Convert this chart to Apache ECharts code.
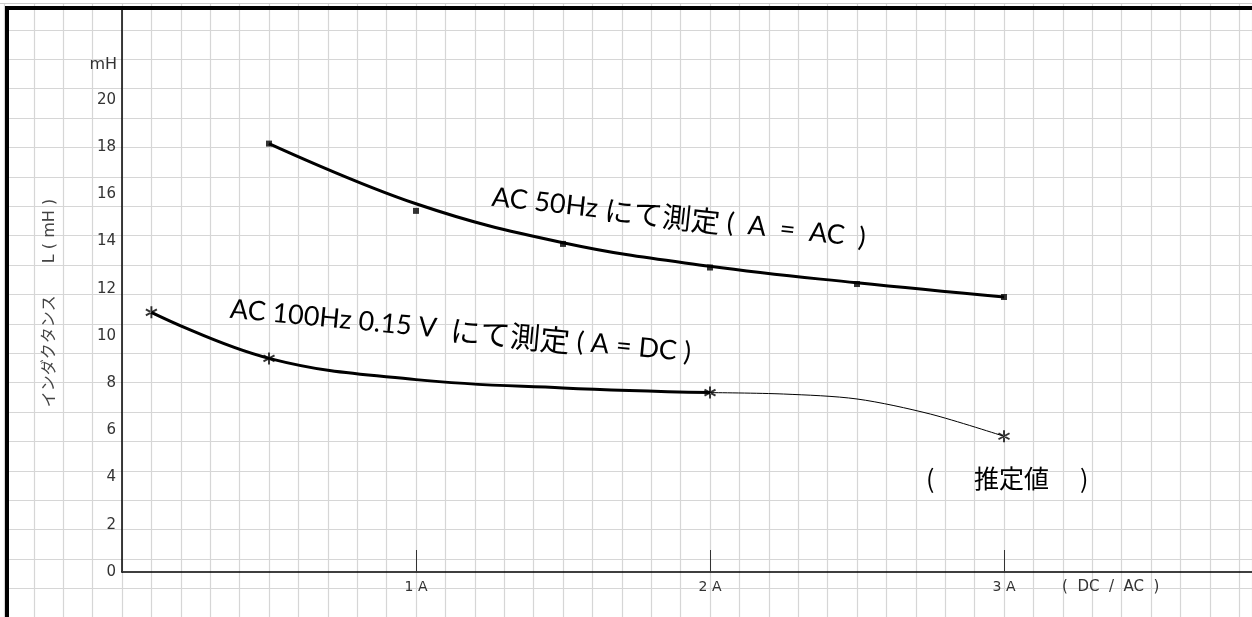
<!DOCTYPE html>
<html>
<head>
<meta charset="utf-8">
<title>インダクタンス</title>
<script src="https://cdn.jsdelivr.net/npm/echarts@6/dist/echarts.min.js"></script>
<style>
  html, body { margin: 0; padding: 0; background: #fff; }
  #chart { width: 1252px; height: 617px; }
</style>
</head>
<body>
<div id="chart"></div>
<script>
// x: current (A), y: inductance (mH)
const xTicks = [1, 2, 3];
const yTicks = [0, 2, 4, 6, 8, 10, 12, 14, 16, 18, 20];

// AC 50Hz measured points (square marks) and the drawn curve
const acX = [0.5, 1.0, 1.5, 2.0, 2.5, 3.0];
const acMarks = [18.15, 15.3, 13.9, 12.9, 12.2, 11.65];
const acCurve = [18.15, 15.6, 13.95, 12.95, 12.25, 11.65];

// AC 100Hz 0.15V (A = DC) measured points (asterisks) and curve
const dcX = [0.1, 0.5, 1.0, 1.5, 2.0];
const dcCurve = [11.0, 9.05, 8.15, 7.8, 7.6];
const dcMarkX = [0.1, 0.5, 2.0, 3.0];
const dcMarks = [11.0, 9.05, 7.6, 5.75];

// estimated part (thin line)
const estX = [2.0, 2.25, 2.5, 2.75, 3.0];
const estCurve = [7.6, 7.54, 7.33, 6.69, 5.75];

const zip = (xs, ys) => xs.map((x, i) => [x, ys[i]]);

const asterisk = 'path://M-0.75,-5L0.75,-5L0.75,5L-0.75,5Z' +
  'M3.95,3.15L4.7,1.85L-3.95,-3.15L-4.7,-1.85Z' +
  'M-3.95,3.15L-4.7,1.85L3.95,-3.15L4.7,-1.85Z';

const labelFont = '"DejaVu Sans", "Noto Sans CJK JP", sans-serif';
const latFont = 'Lato, "Noto Sans CJK JP", sans-serif';
const cjkFont = '"Noto Sans CJK JP", sans-serif';

const noteRich = {
  l: { fontFamily: latFont, fontSize: 27, color: '#000' },
  j: { fontFamily: cjkFont, fontSize: 29, color: '#000' },
  k: { fontFamily: cjkFont, fontSize: 30, color: '#000' },
};

const chart = echarts.init(document.getElementById('chart'), null, { renderer: 'canvas' });

const option = {
  animation: false,
  backgroundColor: '#fff',
  grid: [
    { left: 122, top: 10, right: 0, bottom: 45 },
    { left: 4.4, top: 0.4, right: 0, bottom: 0, z: 0 },
  ],
  xAxis: [{
    type: 'value',
    gridIndex: 0,
    min: 0,
    max: 3.8435,
    interval: 1,
    axisLine: { lineStyle: { color: '#000', width: 1.5 } },
    axisTick: { inside: true, length: 22, lineStyle: { color: '#333' } },
    axisLabel: {
      showMaxLabel: false,
      margin: 8,
      color: '#333',
      fontSize: 14,
      fontFamily: labelFont,
      formatter: (v) => (xTicks.indexOf(v) >= 0 ? v + ' A' : ''),
    },
    splitLine: { show: false },
    z: 5,
  }, {
    type: 'value',
    gridIndex: 1,
    min: 0,
    max: 42.435,
    interval: 1,
    axisLine: { show: false },
    axisTick: { show: false },
    axisLabel: { show: false },
    splitLine: { lineStyle: { color: '#d6d6d6', width: 1.2 } },
  }],
  yAxis: [{
    type: 'value',
    gridIndex: 0,
    min: 0,
    max: 23.81,
    interval: 2,
    axisLine: { show: true, lineStyle: { color: '#000', width: 1.5 } },
    axisTick: { show: false },
    axisLabel: {
      showMaxLabel: false,
      margin: 6,
      color: '#333',
      fontSize: 15,
      fontFamily: labelFont,
      formatter: (v) => (yTicks.indexOf(v) >= 0 ? String(v) : ''),
    },
    splitLine: { show: false },
    z: 5,
  }, {
    type: 'value',
    gridIndex: 1,
    inverse: true,
    min: 0,
    max: 20.97,
    interval: 1,
    axisLine: { show: false },
    axisTick: { show: false },
    axisLabel: { show: false },
    splitLine: { lineStyle: { color: '#d6d6d6', width: 1.2 } },
  }],
  series: [{
    name: 'AC 50Hz',
    type: 'line',
    smooth: 0.4,
    symbol: 'none',
    data: zip(acX, acCurve),
    lineStyle: { color: '#000', width: 3 },
    z: 3,
  }, {
    name: 'AC 50Hz 点',
    type: 'scatter',
    symbol: 'rect',
    symbolSize: 6,
    data: zip(acX, acMarks),
    itemStyle: { color: '#000' },
    z: 4,
  }, {
    name: 'AC 100Hz',
    type: 'line',
    smooth: 0.4,
    symbol: 'none',
    data: zip(dcX, dcCurve),
    lineStyle: { color: '#000', width: 3 },
    z: 3,
  }, {
    name: '推定値',
    type: 'line',
    smooth: 0.3,
    symbol: 'none',
    data: zip(estX, estCurve),
    lineStyle: { color: '#000', width: 1 },
    z: 3,
  }, {
    name: 'AC 100Hz 点',
    type: 'scatter',
    symbol: asterisk,
    symbolSize: 12,
    data: zip(dcMarkX, dcMarks),
    itemStyle: { color: '#000' },
    z: 4,
  }],
  graphic: [
    // frame
    { type: 'rect', shape: { x: 0, y: 0, width: 1252, height: 3 }, style: { fill: '#fff' }, z: 10 },
    { type: 'line', shape: { x1: 0, y1: 3.5, x2: 1252, y2: 3.5 }, style: { stroke: '#ccc', lineWidth: 1 }, z: 10 },
    { type: 'rect', shape: { x: 5, y: 6, width: 1247, height: 4 }, style: { fill: '#000' }, z: 11 },
    { type: 'rect', shape: { x: 5, y: 6, width: 4, height: 611 }, style: { fill: '#000' }, z: 11 },
    // axis texts
    {
      type: 'text', x: 117, y: 65, z: 12,
      style: { text: 'mH', font: '16px ' + labelFont, fill: '#333', textAlign: 'right', textVerticalAlign: 'middle' },
    },
    {
      type: 'text', x: 50, y: 303, rotation: Math.PI / 2, z: 12,
      style: { text: 'インダクタンス　　L ( mH )', font: '16px ' + labelFont, fill: '#444', textAlign: 'center', textVerticalAlign: 'middle' },
    },
    {
      type: 'text', x: 1062, y: 587, z: 12,
      style: { text: '(  DC  /  AC  )', font: '15px ' + labelFont, fill: '#333', textAlign: 'left', textVerticalAlign: 'middle' },
    },
    // annotations
    {
      type: 'text', x: 492, y: 197, rotation: -6.3 * Math.PI / 180, z: 12,
      style: {
        text: '{l|AC 50Hz }{j|にて測定}{l| (  A  =  AC  )}',
        rich: noteRich, textAlign: 'left', textVerticalAlign: 'middle',
      },
    },
    {
      type: 'text', x: 230, y: 309, rotation: -5.4 * Math.PI / 180, z: 12,
      style: {
        text: '{l|AC 100Hz 0.15 V  }{k|にて測定}{l| ( A = DC )}',
        rich: noteRich, textAlign: 'left', textVerticalAlign: 'middle',
      },
    },
    {
      type: 'text', x: 926, y: 478, z: 12,
      style: { text: '(', font: '25px ' + cjkFont, fill: '#000', textAlign: 'left', textVerticalAlign: 'middle' },
    },
    {
      type: 'text', x: 974, y: 478, z: 12,
      style: { text: '推定値', font: '25px ' + cjkFont, fill: '#000', textAlign: 'left', textVerticalAlign: 'middle' },
    },
    {
      type: 'text', x: 1080, y: 478, z: 12,
      style: { text: ')', font: '25px ' + cjkFont, fill: '#000', textAlign: 'left', textVerticalAlign: 'middle' },
    },
  ],
};

chart.setOption(option);
</script>
</body>
</html>
